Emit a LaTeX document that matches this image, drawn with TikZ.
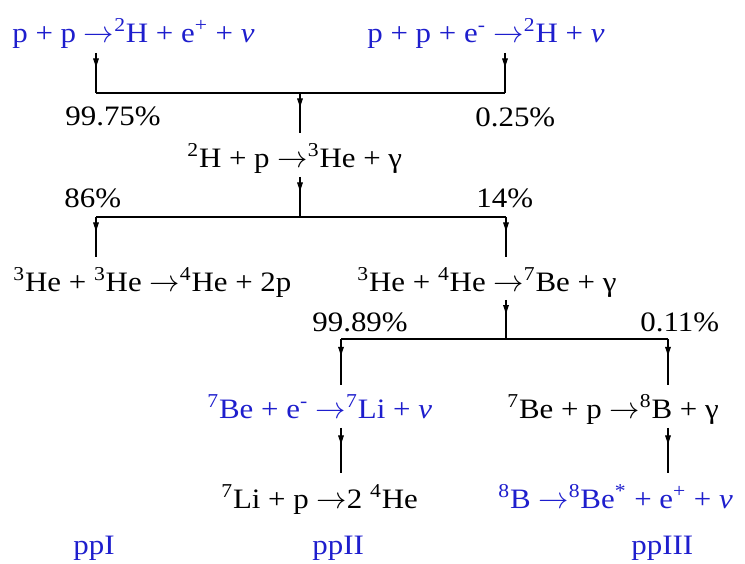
\documentclass[tikz,border=0pt]{standalone}
\usepackage{fontspec}
\setmainfont{Liberation Serif}[FakeStretch=1.1]
\usetikzlibrary{arrows.meta,decorations.markings}

\definecolor{ppblue}{RGB}{30,30,205}
\newcommand{\iso}[1]{\textsuperscript{#1}}
\newcommand{\nuu}{\textit{ν}}
\newcommand{\yields}{\(\rightarrow\)}

\tikzset{
  reac/.style={anchor=base west,inner sep=0pt,font=\fontsize{16}{19}\selectfont},
  bluereac/.style={reac,text=ppblue},
  flow/.style={line width=0.6pt,postaction={decorate},
    decoration={markings,mark=at position 0.4 with {\arrow{Latex[length=6pt,width=3.5pt]}}}},
  bar/.style={line width=0.6pt}
}

\begin{document}
\begin{tikzpicture}[x=0.02cm,y=-0.02cm]
\useasboundingbox (0,0) rectangle (745,564);

% reacoes iniciais
\node[bluereac] (r1a) at (12,43) {p + p \yields\iso{2}H + e\iso{+} + \nuu};
\node[bluereac] (r1b) at (367,43) {p + p + e\iso{-} \yields\iso{2}H + \nuu};
\node[reac] (p1) at (65,126) {99.75\%};
\node[reac] (p2) at (475,127) {0.25\%};

% deuterio
\node[reac] (r2) at (187,168) {\iso{2}H + p \yields\iso{3}He + γ};
\node[reac] (p3) at (64,208) {86\%};
\node[reac] (p4) at (476,208) {14\%};

% helio 3
\node[reac] (r3a) at (13,292) {\iso{3}He + \iso{3}He \yields\iso{4}He + 2p};
\node[reac] (r3b) at (357,292) {\iso{3}He + \iso{4}He \yields\iso{7}Be + γ};
\node[reac] (p5) at (312,332) {99.89\%};
\node[reac] (p6) at (640,332) {0.11\%};

% berilio 7
\node[bluereac] (r4a) at (207,419) {\iso{7}Be + e\iso{-} \yields\iso{7}Li + \nuu};
\node[reac] (r4b) at (507,419) {\iso{7}Be + p \yields\iso{8}B + γ};
\node[reac] (r5a) at (221,509) {\iso{7}Li + p \yields2 \iso{4}He};
\node[bluereac] (r5b) at (498,509) {\iso{8}B \yields\iso{8}Be\iso{*} + e\iso{+} + \nuu};

% cadeias
\node[bluereac] (ppI) at (73,555) {ppI};
\node[bluereac] (ppII) at (312,555) {ppII};
\node[bluereac] (ppIII) at (631,555) {ppIII};

% pontos das ligacoes
\coordinate (a1) at (96,53);
\coordinate (b1) at (505,53);
\coordinate (j1l) at (96,93);
\coordinate (j1m) at (300,93);
\coordinate (j1r) at (505,93);
\coordinate (c2t) at (300,133);
\coordinate (c2b) at (300,177);
\coordinate (j2l) at (96,217);
\coordinate (j2m) at (300,217);
\coordinate (j2r) at (506,217);
\coordinate (d3l) at (96,257);
\coordinate (d3r) at (506,257);
\coordinate (c3) at (506,300);
\coordinate (j3l) at (341,339);
\coordinate (j3m) at (506,339);
\coordinate (j3r) at (668,339);
\coordinate (d4l) at (341,385);
\coordinate (d4r) at (668,385);
\coordinate (c4l) at (341,428);
\coordinate (c4r) at (668,428);
\coordinate (d5l) at (341,473);
\coordinate (d5r) at (668,473);

% barras
\draw[bar] (j1l) -- (j1r);
\draw[bar] (j2l) -- (j2r);
\draw[bar] (j3l) -- (j3r);

% setas
\foreach \a/\b in {a1/j1l, b1/j1r, j1m/c2t, c2b/j2m, j2l/d3l, j2r/d3r,
                   c3/j3m, j3l/d4l, j3r/d4r, c4l/d5l, c4r/d5r}
{
    \draw[flow] (\a) -- (\b);
}

\end{tikzpicture}
\end{document}
